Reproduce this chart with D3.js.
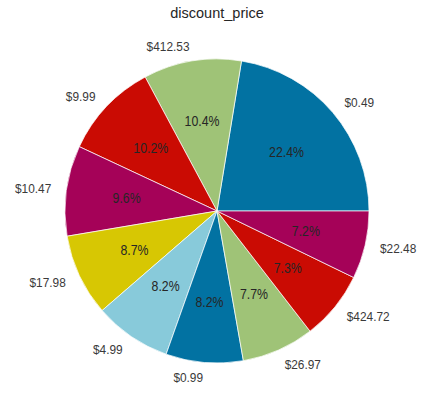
<!DOCTYPE html>
<html><head><meta charset="utf-8">
<script src="https://cdn.jsdelivr.net/npm/d3@7"></script>
<style>body{margin:0;background:#fff;} svg{display:block;}</style>
</head><body>
<svg id="chart" width="424" height="395"></svg>
<script>
const title = "discount_price";
const categories = ["$0.49","$412.53","$9.99","$10.47","$17.98","$4.99","$0.99","$26.97","$424.72","$22.48"];
const values = [22.4,10.4,10.2,9.6,8.7,8.2,8.2,7.7,7.3,7.2];
const colors = ["#0272a2","#9fc377","#ca0b03","#a50258","#d7c703","#88cada"];

const svg = d3.select("#chart");
const W = 424, H = 395;
const cx = 217, cy = 211, r = 152;
const font = "'Liberation Sans', Arial, sans-serif";

svg.append("rect").attr("width",W).attr("height",H).attr("fill","#fff");

svg.append("text").attr("x",217).attr("y",18)
  .attr("text-anchor","middle").attr("font-family",font).attr("font-size",14.5)
  .attr("fill","#262626").text(title);

const g = svg.append("g").attr("transform",`translate(${cx},${cy})`);
const total = d3.sum(values);
const pie = d3.pie().sort(null).value(d=>d.v)
  .startAngle(Math.PI/2).endAngle(Math.PI/2 - 2*Math.PI);
const data = categories.map((c,i)=>({c, v:values[i], i}));
const arcs = pie(data);
const color = d3.scaleOrdinal().domain(d3.range(categories.length)).range(colors);
const arc = d3.arc().innerRadius(0).outerRadius(r);

g.selectAll("path.slice").data(arcs).join("path").attr("class","slice")
  .attr("d",arc).attr("fill",d=>color(d.data.i))
  .attr("stroke","#fff").attr("stroke-width",0.7).attr("stroke-linejoin","round");

function mid(d){ return (d.startAngle+d.endAngle)/2; }
// labels at 1.1 r
g.selectAll("text.lab").data(arcs).join("text").attr("class","lab")
  .attr("transform",d=>{const a=mid(d);const x=Math.sin(a)*r*1.1, y=-Math.cos(a)*r*1.1;return `translate(${x},${y}) scale(0.88,1)`;})
  .attr("text-anchor",d=>Math.sin(mid(d))>0?"start":"end")
  .attr("dominant-baseline","central")
  .attr("font-family",font).attr("font-size",13.5).attr("fill","#3a3a3a")
  .text(d=>d.data.c);
// percentages at 0.6 r
g.selectAll("text.pct").data(arcs).join("text").attr("class","pct")
  .attr("transform",d=>{const a=mid(d);const x=Math.sin(a)*r*0.6, y=-Math.cos(a)*r*0.6;return `translate(${x},${y}) scale(0.88,1)`;})
  .attr("text-anchor","middle").attr("dominant-baseline","central")
  .attr("font-family",font).attr("font-size",14).attr("fill","#262626")
  .text(d=>(d.data.v/total*100).toFixed(1)+"%");
</script>
</body></html>
